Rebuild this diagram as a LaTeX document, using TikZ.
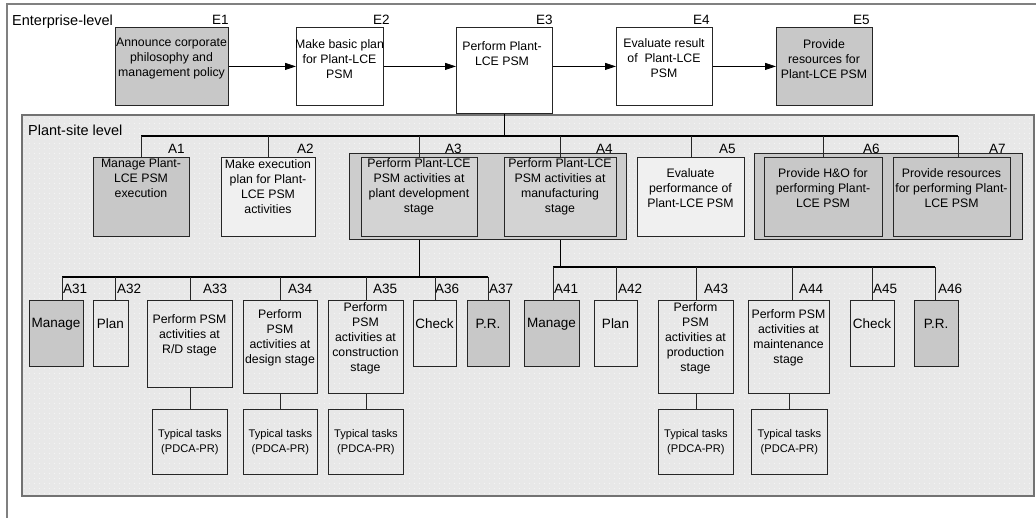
\documentclass[tikz,border=0pt]{standalone}
\usepackage{fontspec}
\setmainfont{Liberation Sans}
\usetikzlibrary{arrows.meta}
\definecolor{boxgray}{HTML}{C8C8C8}
\definecolor{plantbg}{HTML}{E8E8E8}
\definecolor{framegray}{HTML}{727272}
\definecolor{outergray}{HTML}{808080}
\definecolor{stagefill}{HTML}{CDCDCD}
\definecolor{stageinner}{HTML}{D3D3D3}
\definecolor{lightfill}{HTML}{F0F0F0}
\tikzset{
  box/.style={draw=black!85, line width=0.8pt, inner sep=0pt, anchor=north west},
  grey/.style={box, fill=boxgray},
  txt/.style={font=\fontsize{12.3}{15}\selectfont, align=center, inner sep=0pt},
  word/.style={font=\fontsize{13.5}{16}\selectfont, inner sep=0pt},
  small/.style={font=\fontsize{11.1}{15.5}\selectfont, align=center, inner sep=0pt},
  lbl/.style={font=\fontsize{13.5}{16}\selectfont, anchor=base west, inner sep=0pt},
  level/.style={font=\fontsize{14.5}{17}\selectfont, anchor=base west, inner sep=0pt},
  link/.style={line width=0.8pt, draw=black!85},
  bus/.style={line width=1.3pt, draw=black},
  flow/.style={line width=0.8pt, draw=black, -{Triangle[length=11pt,width=7pt]}},
  dotrow/.style={draw=white, line width=0.9pt, dash pattern=on 0.9pt off 4.1pt, opacity=0.55}
}
\begin{document}
\begin{tikzpicture}[x=1pt, y=-1pt]
\useasboundingbox (0,0) rectangle (1036,517);
\fill[white] (0,0) rectangle (1036,517);

% enterprise frame (open to the right and bottom)
\draw[outergray, line width=1.6pt] (1040,4) -- (7,4) -- (7,521);
\node[level] (entlbl) at (12,25) {Enterprise-level};

% plant-site frame with faint dot grid
\fill[plantbg] (22,115) rectangle (1034,496);
\foreach \yy in {118,123,...,493} \draw[dotrow] (24,\yy) -- (1032,\yy);
\draw[framegray, line width=1.5pt] (22,115) rectangle (1034,496);
\node[level] (plantlbl) at (28,135) {Plant-site level};

% ---------- enterprise level ----------
\node[grey, minimum width=113pt, minimum height=78pt] (E1) at (115,27) {};
\node[box, fill=white, minimum width=87pt, minimum height=78pt] (E2) at (296,27) {};
\node[box, fill=white, minimum width=96pt, minimum height=86pt] (E3) at (456,27) {};
\node[box, fill=white, minimum width=96pt, minimum height=78pt] (E4) at (616,27) {};
\node[grey, minimum width=96pt, minimum height=78pt] (E5) at (776,27) {};

\node[txt] (E1t) at (171.5,59) {Announce corporate\\philosophy and\\management policy};
\node[txt] (E2t) at (339.5,59) {Make basic plan\\for Plant-LCE\\PSM};
\node[txt] (E3t) at (502,54) {Perform Plant-\\LCE PSM};
\node[txt] (E4t) at (664,58) {Evaluate result\\of \ Plant-LCE\\PSM};
\node[txt] (E5t) at (824,59) {Provide\\resources for\\Plant-LCE PSM};

\node[lbl] (E1l) at (212,24) {E1};
\node[lbl] (E2l) at (373,24) {E2};
\node[lbl] (E3l) at (536,24) {E3};
\node[lbl] (E4l) at (693,24) {E4};
\node[lbl] (E5l) at (853,24) {E5};

\draw[flow] (E1.east) -- (E2.west);
\draw[flow] (E2.east) -- (E2.east -| E3.west);
\draw[flow] (E4.west -| E3.east) -- (E4.west);
\draw[flow] (E4.east) -- (E5.west);

% ---------- plant-site level ----------
\node[box, fill=stagefill, minimum width=277pt, minimum height=86pt] (G34) at (349,153) {};
\node[box, fill=boxgray, minimum width=268pt, minimum height=86pt] (G67) at (754,153) {};

\node[grey, minimum width=96pt, minimum height=79pt] (A1) at (93,157) {};
\node[box, fill=lightfill, minimum width=94pt, minimum height=79pt] (A2) at (221,157) {};
\node[box, fill=stageinner, minimum width=116pt, minimum height=79pt] (A3) at (361,157) {};
\node[box, fill=stageinner, minimum width=112pt, minimum height=79pt] (A4) at (504,157) {};
\node[box, fill=lightfill, minimum width=107pt, minimum height=79pt] (A5) at (637,157) {};
\node[grey, minimum width=118pt, minimum height=79pt] (A6) at (764,157) {};
\node[grey, minimum width=117pt, minimum height=79pt] (A7) at (893,157) {};

\node[txt] (A1t) at (141,178) {Manage Plant-\\LCE PSM\\execution};
\node[txt] (A2t) at (268,187) {Make execution\\plan for Plant-\\LCE PSM\\activities};
\node[txt] (A3t) at (419,187) {Perform Plant-LCE\\PSM activities at\\plant development\\stage};
\node[txt] (A4t) at (560,187) {Perform Plant-LCE\\PSM activities at\\manufacturing\\stage};
\node[txt] (A5t) at (690.5,188) {Evaluate\\performance of\\Plant-LCE PSM};
\node[txt] (A6t) at (823,188) {Provide H\&O for\\performing Plant-\\LCE PSM};
\node[txt] (A7t) at (951.5,188) {Provide resources\\for performing Plant-\\LCE PSM};

\node[lbl] (A1l) at (168,153) {A1};
\node[lbl] (A2l) at (297,153) {A2};
\node[lbl] (A3l) at (445,153) {A3};
\node[lbl] (A4l) at (596,153) {A4};
\node[lbl] (A5l) at (719,153) {A5};
\node[lbl] (A6l) at (863,153) {A6};
\node[lbl] (A7l) at (989,153) {A7};

% tree from E3 to the plant-site activities
\coordinate (busL) at (141,136);
\coordinate (busR) at (958,136);
\draw[bus] (E3.south) -- (E3.south |- busL);
\draw[bus] (busL) -- (busR);
\foreach \n in {A1,A2,A3,A4,A5,A6} \draw[link] (\n.north |- busL) -- (\n.north);
\draw[link] (busR) -- (busR |- A7.north);

% ---------- A3 sub-activities ----------
\node[grey, minimum width=54pt, minimum height=66pt] (A31) at (29,300) {};
\node[box, minimum width=35pt, minimum height=66pt] (A32) at (93,300) {};
\node[box, minimum width=85pt, minimum height=87pt] (A33) at (147,300) {};
\node[box, minimum width=74pt, minimum height=93pt] (A34) at (243,300) {};
\node[box, minimum width=75pt, minimum height=93pt] (A35) at (328,300) {};
\node[box, minimum width=43pt, minimum height=66pt] (A36) at (413,300) {};
\node[grey, minimum width=42pt, minimum height=66pt] (A37) at (467,300) {};

\node[word] (A31t) at (56,324) {Manage};
\node[word] (A32t) at (110.5,324) {Plan};
\node[txt] (A33t) at (189.5,335) {Perform PSM\\activities at\\R/D stage};
\node[txt] (A34t) at (280,337.5) {Perform\\PSM\\activities at\\design stage};
\node[txt] (A35t) at (365.5,338) {Perform\\PSM\\activities at\\construction\\stage};
\node[word] (A36t) at (434.5,324) {Check};
\node[word] (A37t) at (488,324) {P.R.};

\node[lbl] (A31l) at (63,293) {A31};
\node[lbl] (A32l) at (117,293) {A32};
\node[lbl] (A33l) at (203,293) {A33};
\node[lbl] (A34l) at (288,293) {A34};
\node[lbl] (A35l) at (373,293) {A35};
\node[lbl] (A36l) at (435,293) {A36};
\node[lbl] (A37l) at (489,293) {A37};

\coordinate (b3L) at (62,277);
\coordinate (b3R) at (488,277);
\coordinate (b32) at (115,277);
\draw[bus] (A3.south |- G34.south) -- (A3.south |- b3L);
\draw[bus] (b3L) -- (b3R);
\draw[link] (b3L) -- (b3L |- A31.north);
\draw[link] (b32) -- (b32 |- A32.north);
\foreach \n in {A33,A34,A35,A36,A37} \draw[link] (\n.north |- b3L) -- (\n.north);

% ---------- A4 sub-activities ----------
\node[grey, minimum width=55pt, minimum height=66pt] (A41) at (524,300) {};
\node[box, minimum width=43pt, minimum height=66pt] (A42) at (594,300) {};
\node[box, minimum width=75pt, minimum height=93pt] (A43) at (658,300) {};
\node[box, minimum width=81pt, minimum height=93pt] (A44) at (748,300) {};
\node[box, minimum width=44pt, minimum height=66pt] (A45) at (850,300) {};
\node[grey, minimum width=44pt, minimum height=66pt] (A46) at (914,300) {};

\node[word] (A41t) at (551.5,324) {Manage};
\node[word] (A42t) at (615.5,324) {Plan};
\node[txt] (A43t) at (695.5,338) {Perform\\PSM\\activities at\\production\\stage};
\node[txt] (A44t) at (788.5,338) {Perform PSM\\activities at\\maintenance\\stage};
\node[word] (A45t) at (872,324) {Check};
\node[word] (A46t) at (936,324) {P.R.};

\node[lbl] (A41l) at (554,293) {A41};
\node[lbl] (A42l) at (618,293) {A42};
\node[lbl] (A43l) at (704,293) {A43};
\node[lbl] (A44l) at (799,293) {A44};
\node[lbl] (A45l) at (873,293) {A45};
\node[lbl] (A46l) at (938,293) {A46};

\coordinate (b4L) at (553,267);
\coordinate (b4R) at (935,267);
\coordinate (b42) at (616,267);
\coordinate (b44) at (792,267);
\draw[bus] (A4.south |- G34.south) -- (A4.south |- b4L);
\draw[bus] (b4L) -- (b4R);
\draw[link] (b4L) -- (b4L |- A41.north);
\draw[link] (b42) -- (b42 |- A42.north);
\draw[link] (A43.north |- b4L) -- (A43.north);
\draw[link] (b44) -- (b44 |- A44.north);
\draw[link] (A45.north |- b4L) -- (A45.north);
\draw[link] (b4R) -- (b4R |- A46.north);

% ---------- typical tasks ----------
\node[box, minimum width=75pt, minimum height=65pt] (T33) at (152,409) {};
\node[box, minimum width=74pt, minimum height=65pt] (T34) at (243,409) {};
\node[box, minimum width=75pt, minimum height=65pt] (T35) at (328,409) {};
\node[box, minimum width=75pt, minimum height=65pt] (T43) at (658,409) {};
\node[box, minimum width=76pt, minimum height=65pt] (T44) at (751,409) {};
\foreach \n in {T33,T34,T35,T43,T44}
  \node[small] (\n t) at (\n.center) {Typical tasks\\(PDCA-PR)};

\draw[link] (A33.south) -- (A33.south |- T33.north);
\draw[link] (A34.south) -- (A34.south |- T34.north);
\draw[link] (A35.south) -- (A35.south |- T35.north);
\draw[link] (A43.south) -- (A43.south |- T43.north);
\draw[link] (A44.south) -- (A44.south |- T44.north);
\end{tikzpicture}
\end{document}
